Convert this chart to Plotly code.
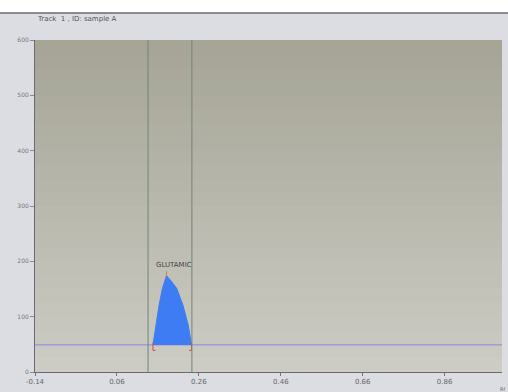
import plotly.graph_objects as go

# ---- data ----
title_text = "Track  1 , ID: sample A"
x_ticks = [-0.14, 0.06, 0.26, 0.46, 0.66, 0.86]
x_tick_labels = ["-0.14", "0.06", "0.26", "0.46", "0.66", "0.86"]
y_ticks = [0, 100, 200, 300, 400, 500, 600]
baseline_level = 49
peak_rf = [0.148, 0.155, 0.163, 0.171, 0.181, 0.194, 0.206, 0.221, 0.234, 0.242]
peak_val = [49, 85, 121, 151, 174, 163, 151, 121, 85, 49]
peak_name = "GLUTAMIC"
peak_label_rf = 0.200
peak_label_val = 194
integration_bounds = [0.136, 0.243]   # vertical window lines
peak_start, peak_end = 0.148, 0.242
apex_rf, apex_val = 0.181, 174
x_range = [-0.14, 1.0]
y_range = [0, 600]

fig = go.Figure()

# baseline
fig.add_trace(go.Scatter(x=x_range, y=[baseline_level, baseline_level], mode="lines",
                         line=dict(color="#8585dc", width=1), hoverinfo="skip"))

# peak polygon filled down to baseline
fig.add_trace(go.Scatter(x=peak_rf, y=peak_val, mode="lines", fill="toself",
                         fillcolor="#3d7cf2", line=dict(color="#3d7cf2", width=1),
                         hoverinfo="skip"))

# red brackets at peak start / end
d = 0.006
fig.add_trace(go.Scatter(x=[peak_start, peak_start, peak_start + d], y=[baseline_level + 4, baseline_level - 10, baseline_level - 10],
                         mode="lines", line=dict(color="#e04a2a", width=1), hoverinfo="skip"))
fig.add_trace(go.Scatter(x=[peak_end, peak_end, peak_end - d], y=[baseline_level + 4, baseline_level - 10, baseline_level - 10],
                         mode="lines", line=dict(color="#e04a2a", width=1), hoverinfo="skip"))
# apex marker
fig.add_trace(go.Scatter(x=[apex_rf, apex_rf], y=[apex_val, apex_val + 8], mode="lines",
                         line=dict(color="#e07050", width=1), hoverinfo="skip"))

shapes = []
# plot-area background gradient (photo of screen)
n = 24
top = (166, 165, 150)
bot = (204, 204, 196)
for i in range(n):
    t = i / (n - 1)
    c = tuple(int(top[k] + (bot[k] - top[k]) * t) for k in range(3))
    shapes.append(dict(type="rect", xref="paper", yref="paper", x0=0, x1=1,
                       y0=max(0, 1 - (i + 1) / n - 0.01), y1=1 - i / n, line=dict(width=0),
                       fillcolor="rgb(%d,%d,%d)" % c, layer="below"))
# white strip at top of photo and dark edge
shapes.append(dict(type="rect", xref="paper", yref="paper", x0=-0.1, x1=1.1, y0=1.081, y1=1.2,
                   line=dict(width=0), fillcolor="white", layer="below"))
shapes.append(dict(type="line", xref="paper", yref="paper", x0=-0.1, x1=1.1, y0=1.081, y1=1.081,
                   line=dict(color="#6a6a6a", width=1.5), layer="below"))
# integration window lines
for xv in integration_bounds:
    shapes.append(dict(type="line", xref="x", yref="paper", x0=xv, x1=xv, y0=0, y1=1,
                       line=dict(color="#6f8579", width=1)))

annotations = [
    dict(text=title_text, xref="paper", yref="paper", x=0.0, y=1.062, xanchor="left", yanchor="middle",
         showarrow=False, font=dict(size=7, color="#555", family="DejaVu Sans")),
    dict(text=peak_name, x=peak_label_rf, y=peak_label_val, showarrow=False,
         font=dict(size=7, color="#444", family="DejaVu Sans")),
    dict(text="Rf", xref="paper", yref="paper", x=1.0, y=-0.035, xanchor="center", yanchor="top",
         showarrow=False, font=dict(size=5, color="#666", family="DejaVu Sans")),
]

fig.update_layout(
    width=508, height=392,
    margin=dict(l=35, r=6, t=40, b=18),
    paper_bgcolor="#dcdde3",
    plot_bgcolor="rgba(0,0,0,0)",
    showlegend=False,
    shapes=shapes,
    annotations=annotations,
    xaxis=dict(range=x_range, tickvals=x_ticks, ticktext=x_tick_labels, showgrid=False, zeroline=False,
               showline=True, linecolor="#6a6a70", linewidth=1, ticks="outside", ticklen=3,
               tickcolor="#777", tickfont=dict(size=7, color="#666", family="DejaVu Sans")),
    yaxis=dict(range=y_range, tickvals=y_ticks, showgrid=False, zeroline=False,
               showline=True, linecolor="#6a6a70", linewidth=1, ticks="outside", ticklen=4,
               tickcolor="#888", tickfont=dict(size=6, color="#777", family="DejaVu Sans")),
)

fig.write_html("out.html")
